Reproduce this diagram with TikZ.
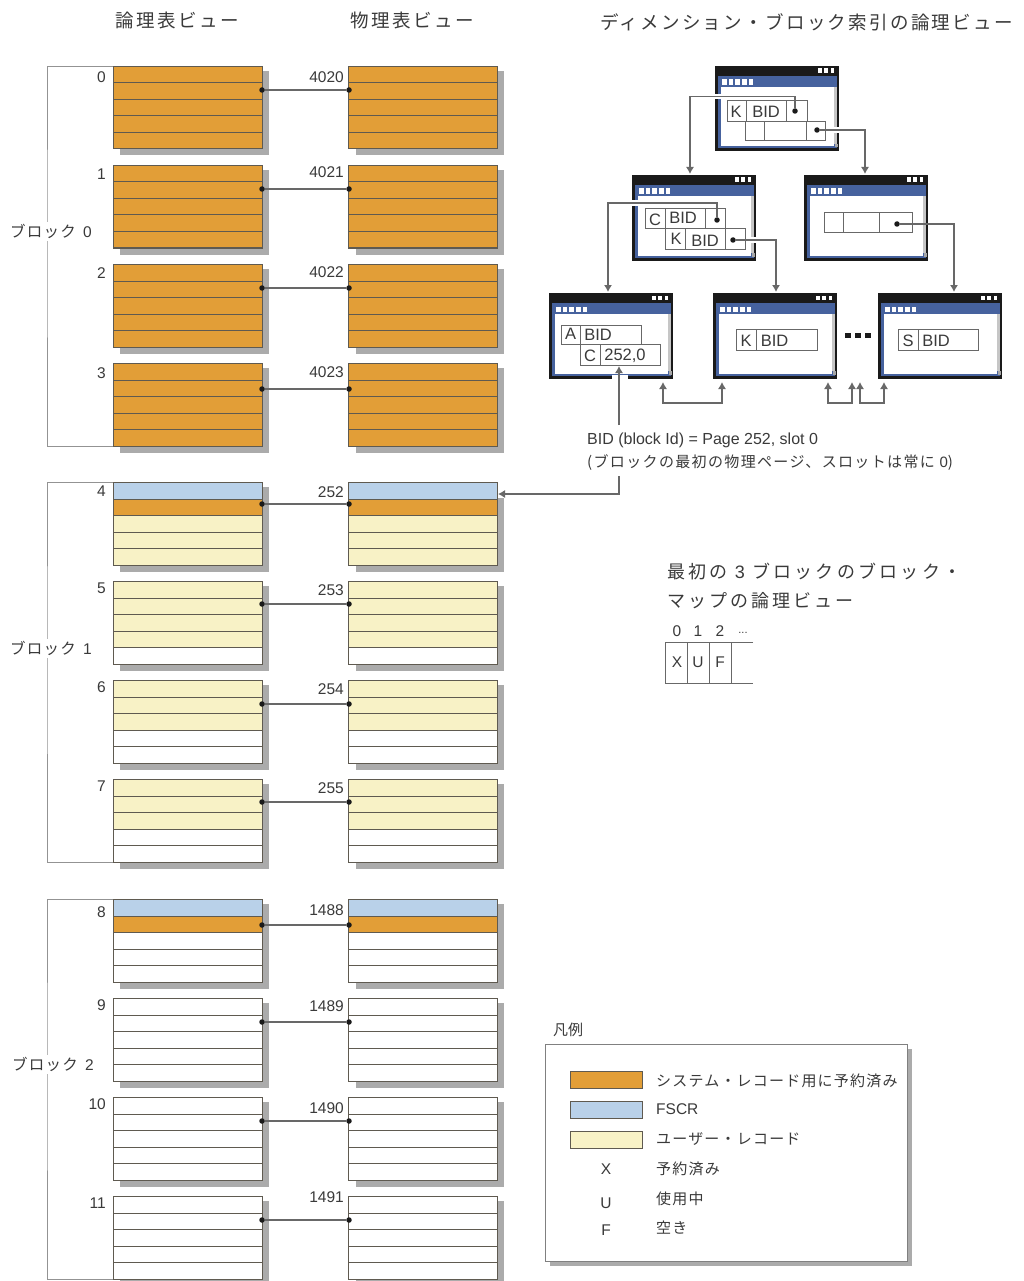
\documentclass[tikz,border=0pt]{standalone}
\usepackage{fontspec}
\setmainfont{Liberation Sans}
\newfontfamily\jp{Noto Sans CJK JP}
\usetikzlibrary{arrows.meta,positioning,calc}
\definecolor{rowO}{HTML}{E29E37}
\definecolor{rowB}{HTML}{B9D1E9}
\definecolor{rowY}{HTML}{F8F2C6}
\definecolor{rowW}{HTML}{FFFFFF}
\definecolor{winblue}{HTML}{46629E}
\definecolor{winblack}{HTML}{1A1A1A}
\definecolor{dropcol}{HTML}{ABABAB}
\definecolor{ink}{HTML}{3A3A3A}
\definecolor{edge}{HTML}{5F5A50}
\definecolor{wire}{HTML}{686868}
\newcommand{\lsz}{\fontsize{15.5}{18}\selectfont}
\newcommand{\jlab}{\jp\fontsize{15}{18}\selectfont\addfontfeature{LetterSpace=8}}
\newcommand{\jblock}{\jp\fontsize{15.5}{18}\selectfont\addfontfeature{LetterSpace=8}}
\tikzset{
  rowbox/.style={draw=edge,line width=1pt,anchor=north west,inner sep=0pt,outer sep=0pt,minimum width=148.6pt,minimum height=16.5pt},
  dotmark/.style={circle,fill=winblack,inner sep=0pt,minimum size=5.5pt},
  link/.style={draw=wire,line width=1.1pt},
  conn/.style={draw=wire,line width=1.1pt,-{Latex[length=7pt,width=8pt]}},
  both/.style={draw=wire,line width=1.1pt,{Latex[length=7pt,width=8pt]}-{Latex[length=7pt,width=8pt]}},
  bracket/.style={draw=gray!85,line width=1pt},
  label/.style={text=ink,font=\lsz,inner sep=0pt},
  cellbox/.style={draw=wire,line width=1pt},
  ctext/.style={text=ink,font=\fontsize{16.5}{18}\selectfont,inner sep=0pt},
  sw/.style={draw=edge,line width=1pt,anchor=north west,inner sep=0pt,minimum width=72pt,minimum height=17pt}
}
\newcommand{\pagecol}[8]{%
  \fill[dropcol] (#2+7,#3+5) rectangle (#2+148.6+7,#3+82.5+7);
  \node[rowbox,fill=row#4] (#1-1) at (#2,#3+0.5) {};
  \node[rowbox,fill=row#5] (#1-2) at (#2,#3+17) {};
  \node[rowbox,fill=row#6] (#1-3) at (#2,#3+33.5) {};
  \node[rowbox,fill=row#7] (#1-4) at (#2,#3+50) {};
  \node[rowbox,fill=row#8] (#1-5) at (#2,#3+66.5) {};
}
\newcommand{\pagepair}[7]{%
  \pagecol{l#1}{113.4}{#2}{#3}{#4}{#5}{#6}{#7}
  \pagecol{p#1}{348.8}{#2}{#3}{#4}{#5}{#6}{#7}
}
\newcommand{\pagelink}[2]{%
  \node[dotmark] (ld#1) at (262,#2) {};
  \node[dotmark] (pd#1) at (349,#2) {};
  \draw[link] (ld#1) -- (pd#1);
}
\newcommand{\pagelabels}[5]{%
  \node[label,anchor=east] (ln#1) at (106,#3) {#2};
  \node[label,anchor=east] (pn#1) at (344,#5) {#4};
}
\newcommand{\window}[3]{%
  \begin{scope}[shift={(#2,#3)}]
    \fill[winblack] (0,0) rectangle (124,85.5);
    \fill[winblue] (3,10) rectangle (122,82.5);
    \fill[white] (5.5,21) rectangle (119,80.5);
    \fill[gray!45] (119,21) rectangle (122,78);
    \fill[gray!70] (119.5,78) rectangle (122.5,81.5);
    \foreach \q in {103,109.3,115.6} \fill[white] (\q,2.5) rectangle +(3.8,4.2);
    \foreach \q in {7,13.7,20.4,27.1,33.8} \fill[white] (\q,13.5) rectangle +(4.6,5.2);
  \end{scope}
}
\begin{document}
\begin{tikzpicture}[x=1pt,y=-1pt]
\useasboundingbox (0,0) rectangle (1024,1281);
\fill[white] (0,0) rectangle (1024,1281);
% headings
\node[text=ink,anchor=west,inner sep=0pt,font=\jp\fontsize{18.5}{21}\selectfont\addfontfeature{LetterSpace=13.5}] (h1) at (115,20) {論理表ビュー};
\node[text=ink,anchor=west,inner sep=0pt,font=\jp\fontsize{18.5}{21}\selectfont\addfontfeature{LetterSpace=13.5}] (h2) at (350,20) {物理表ビュー};
\node[text=ink,anchor=west,inner sep=0pt,font=\jp\fontsize{18.5}{21}\selectfont\addfontfeature{LetterSpace=12.5}] (h3) at (600,22) {ディメンション・ブロック索引の論理ビュー};
% stacks
\pagepair{0}{66}{O}{O}{O}{O}{O}
\pagepair{1}{165}{O}{O}{O}{O}{O}
\pagepair{2}{264}{O}{O}{O}{O}{O}
\pagepair{3}{363}{O}{O}{O}{O}{O}
\pagepair{4}{482}{B}{O}{Y}{Y}{Y}
\pagepair{5}{581}{Y}{Y}{Y}{Y}{W}
\pagepair{6}{680}{Y}{Y}{Y}{W}{W}
\pagepair{7}{779}{Y}{Y}{Y}{W}{W}
\pagepair{8}{899}{B}{O}{W}{W}{W}
\pagepair{9}{998}{W}{W}{W}{W}{W}
\pagepair{10}{1097}{W}{W}{W}{W}{W}
\pagepair{11}{1196}{W}{W}{W}{W}{W}
\fill[white] (498,484) rectangle (508,498);
\pagelink{0}{90}\pagelink{1}{189}\pagelink{2}{288}\pagelink{3}{389}
\pagelink{4}{504}\pagelink{5}{604}\pagelink{6}{704}\pagelink{7}{802}
\pagelink{8}{925}\pagelink{9}{1022}\pagelink{10}{1121}\pagelink{11}{1220}
\pagelabels{0}{0}{77}{4020}{77}
\pagelabels{1}{1}{174}{4021}{172}
\pagelabels{2}{2}{273}{4022}{272}
\pagelabels{3}{3}{373}{4023}{372}
\pagelabels{4}{4}{491}{252}{492}
\pagelabels{5}{5}{588}{253}{590}
\pagelabels{6}{6}{687}{254}{689}
\pagelabels{7}{7}{786}{255}{788}
\pagelabels{8}{8}{912}{1488}{910}
\pagelabels{9}{9}{1005}{1489}{1006}
\pagelabels{10}{10}{1104}{1490}{1108}
\pagelabels{11}{11}{1203}{1491}{1197}
% brackets
\coordinate (bx0) at (47,231);
\coordinate (bx1) at (47,648);
\coordinate (bx2) at (47,1064);
\draw[bracket] (l0-1.north west) -| (bx0) |- (l3-5.south west);
\draw[bracket] (l4-1.north west) -| (bx1) |- (l7-5.south west);
\draw[bracket] (l8-1.north west) -| (bx2) |- (l11-5.south west);
\node[fill=white,text=ink,inner sep=2pt,font=\jblock] (b0) at (51,231.5) {ブロック {\rmfamily\,0}};
\node[fill=white,text=ink,inner sep=2pt,font=\jblock] (b1) at (51,648.5) {ブロック {\rmfamily\,1}};
\node[fill=white,text=ink,inner sep=2pt,font=\jblock] (b2) at (53,1064.5) {ブロック {\rmfamily\,2}};
% windows
\window{w0}{715}{66}
\window{w1}{632}{175}
\window{w2}{804}{175}
\window{w3}{549}{293}
\window{w4}{713}{293}
\window{w5}{878}{293}
% gaps where wires cross the frames
\fill[white] (715,94) rectangle (721,99);
\fill[white] (832,127) rectangle (840,133);
\fill[white] (632,200) rectangle (638,206);
\fill[white] (749,237) rectangle (757,243);
\fill[white] (612,375) rectangle (628,380);
% window cells
\draw[cellbox] (727,101) rectangle (807,122) (746,101) -- (746,122) (786,101) -- (786,122);
\draw[cellbox,fill=white] (745,122) rectangle (825,141) (764,122) -- (764,141) (806,122) -- (806,141);
\node[ctext] (k0) at (736,112) {K};
\node[ctext] (bid0) at (766,112) {BID};
\draw[cellbox] (645,209) rectangle (725,229) (665,209) -- (665,229) (705,209) -- (705,229);
\draw[cellbox,fill=white] (665,229) rectangle (745,249) (685,229) -- (685,249) (725,229) -- (725,249);
\node[ctext] (c1) at (655,220) {C};
\node[ctext] (bid1) at (683,218) {BID};
\node[ctext] (k1) at (676,239) {K};
\node[ctext] (bid2) at (705,241) {BID};
\draw[cellbox] (824,213) rectangle (912,233) (843,213) -- (843,233) (879,213) -- (879,233);
\draw[cellbox] (561,325) rectangle (641,344) (580,325) -- (580,344);
\draw[cellbox,fill=white] (580,344) rectangle (660,365) (600,344) -- (600,365);
\node[ctext] (a3) at (570.5,334) {A};
\node[ctext] (bid3) at (598,335) {BID};
\node[ctext] (c3) at (590,356) {C};
\node[ctext] (val3) at (625,356) {252,0};
\draw[cellbox] (736,329) rectangle (817,350) (756,329) -- (756,350);
\node[ctext] (k4) at (746,341) {K};
\node[ctext] (bid4) at (774.5,341) {BID};
\draw[cellbox] (898,329) rectangle (978,350) (918,329) -- (918,350);
\node[ctext] (s5) at (908,341) {S};
\node[ctext] (bid5) at (936,341) {BID};
% ellipsis squares
\foreach \q in {845,855,865} \fill[winblack] (\q,333) rectangle +(6.3,5);
% index dots
\node[dotmark] (d0a) at (795,111) {};
\node[dotmark] (d0b) at (817,130) {};
\node[dotmark] (d1a) at (717,220) {};
\node[dotmark] (d1b) at (733,240) {};
\node[dotmark] (d2a) at (897,224) {};
\coordinate (i1) at (690,174);
\coordinate (i2) at (865,174);
\coordinate (i3) at (608,292);
\coordinate (i4) at (776,292);
\coordinate (i5) at (954,292);
\draw[conn] (d0a) -- (795,96.5) -- (690,96.5) -- (i1);
\draw[conn] (d0b) -- (865,130) -- (i2);
\draw[conn] (d1a) -- (717,203) -- (608,203) -- (i3);
\draw[conn] (d1b) -- (776,240) -- (i4);
\draw[conn] (d2a) -- (954,224) -- (i5);
% sibling arrows
\coordinate (s3) at (663,382);
\coordinate (s4a) at (722,382);
\coordinate (s4b) at (828,382);
\coordinate (s4c) at (852,382);
\coordinate (s5a) at (860,382);
\coordinate (s5b) at (884,382);
\draw[both] (s3) -- (663,403) -- (722,403) -- (s4a);
\draw[both] (s4b) -- (828,403) -- (852,403) -- (s4c);
\draw[both] (s5a) -- (860,403) -- (884,403) -- (s5b);
% BID note
\node[text=ink,anchor=west,inner sep=0pt,font=\fontsize{16}{18}\selectfont] (note1) at (587,440.5) {BID (block Id) = Page 252, slot 0};
\node[text=ink,anchor=west,inner sep=0pt,font=\jp\fontsize{15}{18}\selectfont\addfontfeature{LetterSpace=9}] (note2) at (587,462.5) {({ブロックの最初の物理ページ、スロットは常に} {\rmfamily 0})};
\coordinate (nt) at (619,425);
\coordinate (nb) at (619,476);
\coordinate (p4in) at (498,494);
\coordinate (v3) at (619,366);
\draw[conn] (nt) -- (v3);
\draw[conn] (nb) -- (619,494) -- (p4in);
% block map
\node[text=ink,anchor=west,inner sep=0pt,font=\jp\fontsize{18}{21}\selectfont\addfontfeature{LetterSpace=18}] (m1) at (667,572) {最初の {\rmfamily 3} ブロックのブロック・};
\node[text=ink,anchor=west,inner sep=0pt,font=\jp\fontsize{18}{21}\selectfont\addfontfeature{LetterSpace=17}] (m2) at (667,601) {マップの論理ビュー};
\node[label] (mn0) at (677,631) {0};
\node[label] (mn1) at (698,631) {1};
\node[label] (mn2) at (720,631) {2};
\node[label] (mn3) at (743,633) {\fontsize{11}{12}\selectfont ...};
\draw[cellbox] (753,642) -- (665,642) -- (665,683) -- (753,683) (687,642) -- (687,683) (709,642) -- (709,683) (731,642) -- (731,683);
\node[label] (mx) at (677,662) {X};
\node[label] (mu) at (698,662) {U};
\node[label] (mf) at (720,662) {F};
% legend
\node[text=ink,anchor=west,inner sep=0pt,font=\jp\fontsize{15}{18}\selectfont] (lg) at (553,1029.5) {凡例};
\fill[dropcol] (550,1049) rectangle (912,1266);
\draw[draw=gray,line width=1pt,fill=white] (545,1044) rectangle (907,1261);
\node[sw,fill=rowO] (sw1) at (570,1071) {};
\node[sw,fill=rowB] (sw2) at (570,1101) {};
\node[sw,fill=rowY] (sw3) at (570,1131) {};
\node[text=ink,anchor=west,inner sep=0pt,font=\jlab] (t1) at (656,1081) {システム・レコード用に予約済み};
\node[label,anchor=west] (t2) at (656,1109) {FSCR};
\node[text=ink,anchor=west,inner sep=0pt,font=\jlab] (t3) at (656,1139) {ユーザー・レコード};
\node[text=ink,anchor=west,inner sep=0pt,font=\jlab] (t4) at (656,1169) {予約済み};
\node[text=ink,anchor=west,inner sep=0pt,font=\jlab] (t5) at (656,1199) {使用中};
\node[text=ink,anchor=west,inner sep=0pt,font=\jlab] (t6) at (656,1228) {空き};
\node[label] (tx) at (606,1169) {X};
\node[label] (tu) at (606,1203) {U};
\node[label] (tf) at (606,1230) {F};
\end{tikzpicture}
\end{document}
